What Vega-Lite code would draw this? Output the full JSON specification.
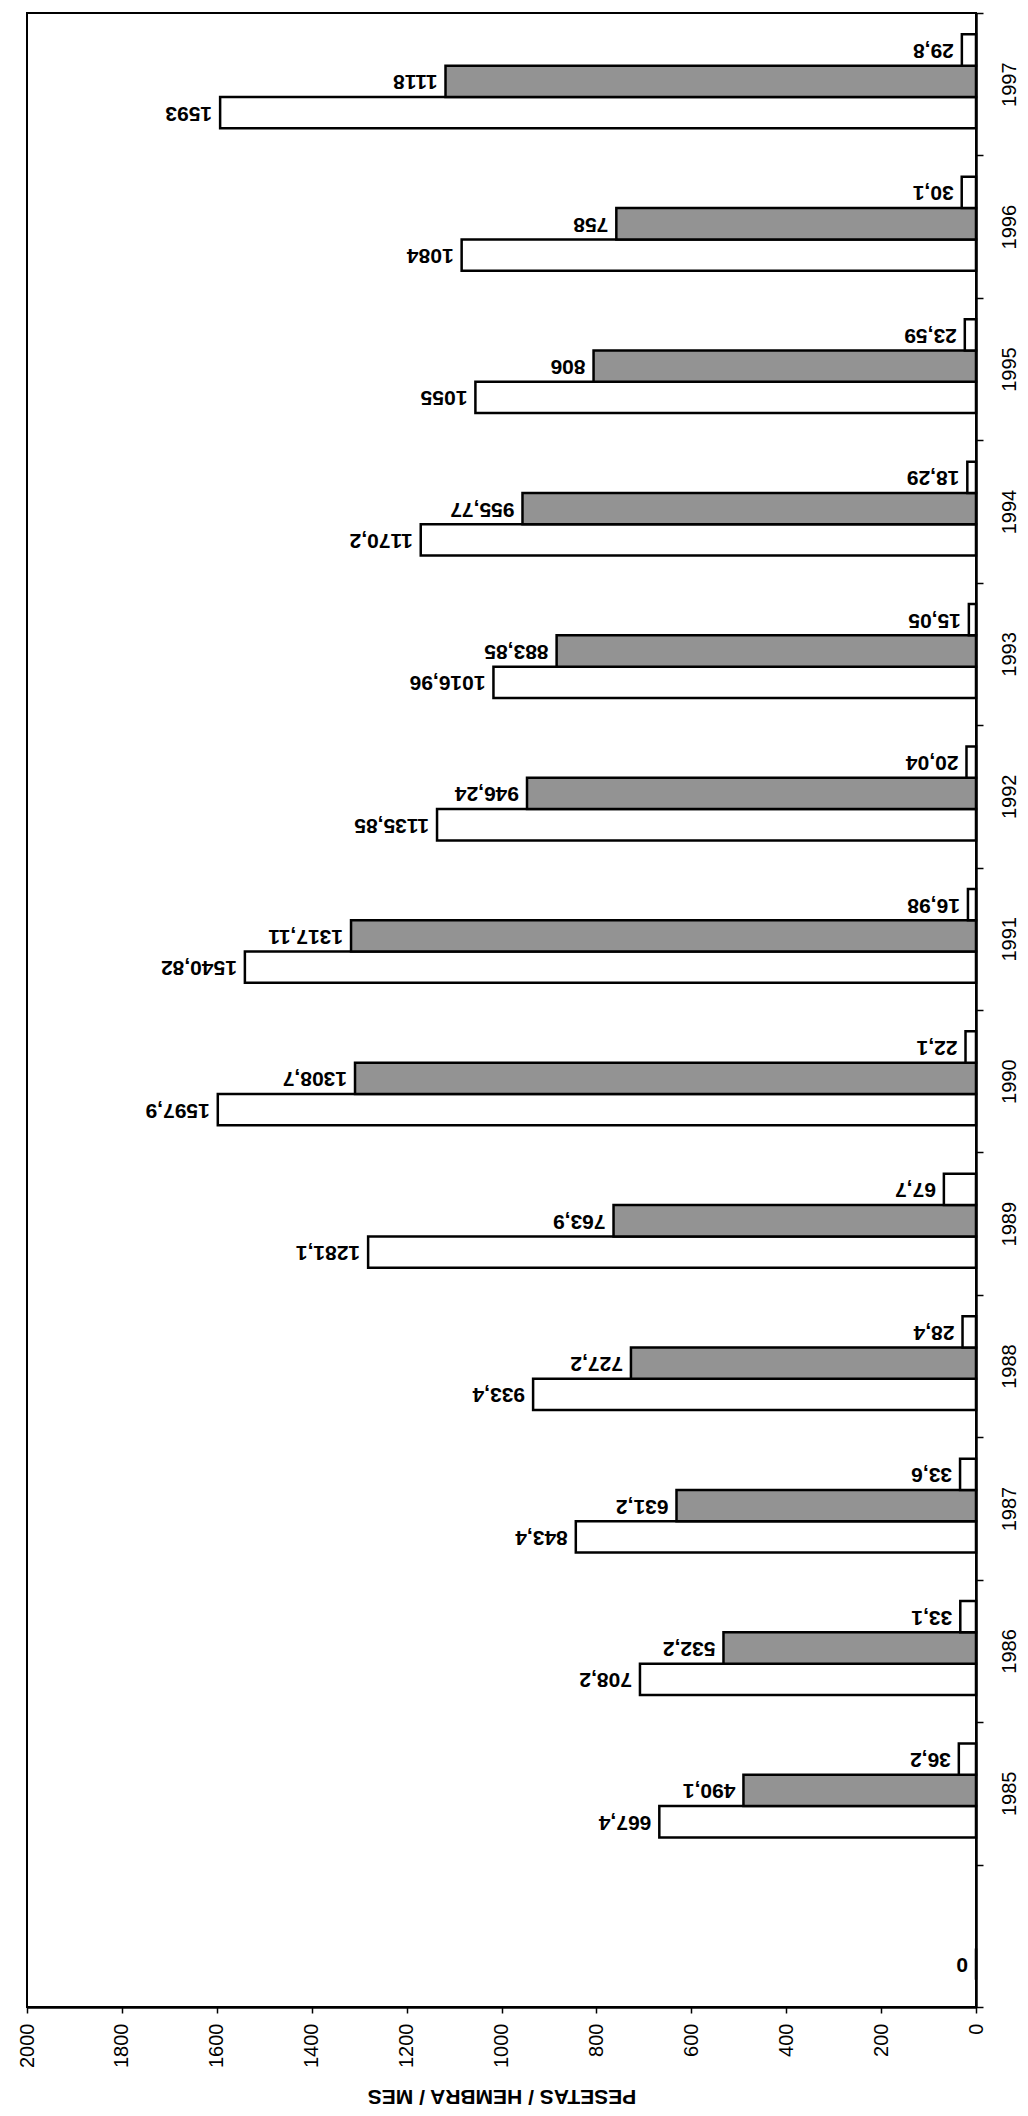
{
  "$schema": "https://vega.github.io/schema/vega-lite/v6.json",
  "width": 949,
  "height": 1994,
  "autosize": {"type": "none"},
  "padding": {"left": 27, "top": 13, "right": 52, "bottom": 109},
  "background": "white",
  "config": {
    "view": {"stroke": "black", "strokeWidth": 2},
    "font": "Liberation Sans"
  },
  "data": {
    "values": [
      {"year": "1985", "serie": "Serie 1", "value": 667.4, "label": "667,4"},
      {"year": "1985", "serie": "Serie 2", "value": 490.1, "label": "490,1"},
      {"year": "1985", "serie": "Serie 3", "value": 36.2, "label": "36,2"},
      {"year": "1986", "serie": "Serie 1", "value": 708.2, "label": "708,2"},
      {"year": "1986", "serie": "Serie 2", "value": 532.2, "label": "532,2"},
      {"year": "1986", "serie": "Serie 3", "value": 33.1, "label": "33,1"},
      {"year": "1987", "serie": "Serie 1", "value": 843.4, "label": "843,4"},
      {"year": "1987", "serie": "Serie 2", "value": 631.2, "label": "631,2"},
      {"year": "1987", "serie": "Serie 3", "value": 33.6, "label": "33,6"},
      {"year": "1988", "serie": "Serie 1", "value": 933.4, "label": "933,4"},
      {"year": "1988", "serie": "Serie 2", "value": 727.2, "label": "727,2"},
      {"year": "1988", "serie": "Serie 3", "value": 28.4, "label": "28,4"},
      {"year": "1989", "serie": "Serie 1", "value": 1281.1, "label": "1281,1"},
      {"year": "1989", "serie": "Serie 2", "value": 763.9, "label": "763,9"},
      {"year": "1989", "serie": "Serie 3", "value": 67.7, "label": "67,7"},
      {"year": "1990", "serie": "Serie 1", "value": 1597.9, "label": "1597,9"},
      {"year": "1990", "serie": "Serie 2", "value": 1308.7, "label": "1308,7"},
      {"year": "1990", "serie": "Serie 3", "value": 22.1, "label": "22,1"},
      {"year": "1991", "serie": "Serie 1", "value": 1540.82, "label": "1540,82"},
      {"year": "1991", "serie": "Serie 2", "value": 1317.11, "label": "1317,11"},
      {"year": "1991", "serie": "Serie 3", "value": 16.98, "label": "16,98"},
      {"year": "1992", "serie": "Serie 1", "value": 1135.85, "label": "1135,85"},
      {"year": "1992", "serie": "Serie 2", "value": 946.24, "label": "946,24"},
      {"year": "1992", "serie": "Serie 3", "value": 20.04, "label": "20,04"},
      {"year": "1993", "serie": "Serie 1", "value": 1016.96, "label": "1016,96"},
      {"year": "1993", "serie": "Serie 2", "value": 883.85, "label": "883,85"},
      {"year": "1993", "serie": "Serie 3", "value": 15.05, "label": "15,05"},
      {"year": "1994", "serie": "Serie 1", "value": 1170.2, "label": "1170,2"},
      {"year": "1994", "serie": "Serie 2", "value": 955.77, "label": "955,77"},
      {"year": "1994", "serie": "Serie 3", "value": 18.29, "label": "18,29"},
      {"year": "1995", "serie": "Serie 1", "value": 1055, "label": "1055"},
      {"year": "1995", "serie": "Serie 2", "value": 806, "label": "806"},
      {"year": "1995", "serie": "Serie 3", "value": 23.59, "label": "23,59"},
      {"year": "1996", "serie": "Serie 1", "value": 1084, "label": "1084"},
      {"year": "1996", "serie": "Serie 2", "value": 758, "label": "758"},
      {"year": "1996", "serie": "Serie 3", "value": 30.1, "label": "30,1"},
      {"year": "1997", "serie": "Serie 1", "value": 1593, "label": "1593"},
      {"year": "1997", "serie": "Serie 2", "value": 1118, "label": "1118"},
      {"year": "1997", "serie": "Serie 3", "value": 29.8, "label": "29,8"},
      {"year": "", "serie": "Serie 1", "value": 0, "label": "0"}
    ]
  },
  "encoding": {
    "y": {
      "field": "year",
      "type": "nominal",
      "sort": ["1997", "1996", "1995", "1994", "1993", "1992", "1991", "1990", "1989", "1988", "1987", "1986", "1985", ""],
      "scale": {"paddingInner": 0, "paddingOuter": 0},
      "axis": {
        "orient": "right",
        "title": null,
        "tickBand": "extent",
        "tickSize": 7,
        "tickWidth": 1.5,
        "tickColor": "black",
        "domainColor": "black",
        "domainWidth": 2.5,
        "labelAngle": 270,
        "labelAlign": "center",
        "labelBaseline": "top",
        "labelFontSize": 20,
        "labelPadding": 16,
        "labelColor": "black",
        "grid": false
      }
    },
    "yOffset": {
      "field": "serie",
      "type": "nominal",
      "sort": ["Serie 3", "Serie 2", "Serie 1"],
      "scale": {"paddingInner": 0, "paddingOuter": 0.775, "align": 0.44}
    },
    "x": {
      "field": "value",
      "type": "quantitative",
      "scale": {"domain": [0, 2000], "reverse": true, "nice": false},
      "axis": {
        "orient": "bottom",
        "values": [0, 200, 400, 600, 800, 1000, 1200, 1400, 1600, 1800, 2000],
        "format": "d",
        "title": "PESETAS / HEMBRA / MES",
        "titleAngle": 180,
        "titleBaseline": "bottom",
        "titleFontSize": 21,
        "titleFontWeight": "bold",
        "titleColor": "black",
        "titlePadding": 18,
        "labelAngle": 270,
        "labelAlign": "right",
        "labelBaseline": "middle",
        "labelFontSize": 20,
        "labelPadding": 10,
        "labelColor": "black",
        "tickSize": 6,
        "tickWidth": 1.5,
        "tickColor": "black",
        "domainColor": "black",
        "domainWidth": 2.5,
        "grid": false
      }
    }
  },
  "layer": [
    {
      "mark": {"type": "bar", "stroke": "black", "strokeWidth": 2.5},
      "encoding": {
        "fill": {
          "field": "serie",
          "type": "nominal",
          "scale": {"domain": ["Serie 1", "Serie 2", "Serie 3"], "range": ["white", "#939393", "white"]},
          "legend": null
        }
      }
    },
    {
      "mark": {"type": "text", "angle": 180, "align": "left", "baseline": "middle", "dx": 8, "fontSize": 21, "fontWeight": "bold", "color": "black"},
      "encoding": {"text": {"field": "label"}}
    }
  ]
}
